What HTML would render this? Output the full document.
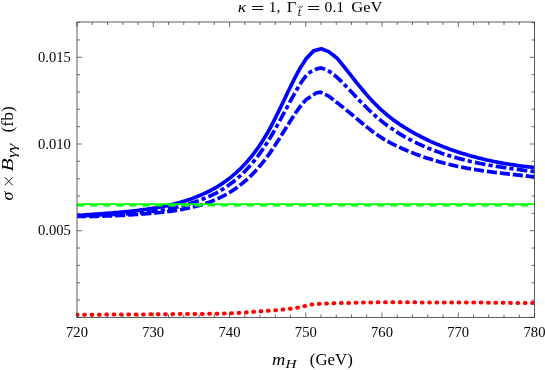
<!DOCTYPE html>
<html><head><meta charset="utf-8"><style>
html,body{margin:0;padding:0;background:#fff;}
svg{display:block;font-family:"Liberation Serif",serif;will-change:transform;-webkit-font-smoothing:antialiased;}
</style></head><body>
<svg width="545" height="370" viewBox="0 0 545 370">
<rect width="545" height="370" fill="#fff"/>
<defs><clipPath id="c"><rect x="75.8" y="22.0" width="459.7" height="295.45"/></clipPath></defs>
<g clip-path="url(#c)" fill="none">
<g stroke="#0000ff" stroke-width="3.7" stroke-linejoin="round">
<path d="M77.0 215.5 L78.5 215.4 L80.0 215.3 L81.5 215.2 L83.0 215.0 L84.5 214.9 L86.0 214.8 L87.5 214.7 L89.0 214.6 L90.5 214.5 L92.0 214.4 L93.5 214.3 L95.0 214.2 L96.5 214.1 L98.0 214.0 L99.5 213.9 L101.0 213.8 L102.5 213.7 L104.0 213.5 L105.5 213.4 L107.0 213.3 L108.5 213.2 L110.0 213.1 L111.5 213.0 L113.0 212.8 L114.5 212.7 L116.0 212.6 L117.5 212.5 L119.0 212.3 L120.5 212.2 L122.0 212.1 L123.5 211.9 L125.0 211.8 L126.5 211.6 L128.0 211.5 L129.5 211.3 L131.0 211.2 L132.5 211.0 L134.0 210.8 L135.5 210.7 L137.0 210.5 L138.5 210.3 L140.0 210.1 L141.5 209.9 L143.0 209.7 L144.5 209.5 L146.0 209.3 L147.5 209.1 L149.0 208.9 L150.5 208.6 L152.0 208.4 L153.5 208.2 L155.0 207.9 L156.5 207.7 L158.0 207.4 L159.5 207.1 L161.0 206.8 L162.5 206.6 L164.0 206.3 L165.5 205.9 L167.0 205.6 L168.5 205.3 L170.0 205.0 L171.5 204.6 L173.0 204.2 L174.5 203.9 L176.0 203.5 L177.5 203.1 L179.0 202.7 L180.5 202.3 L182.0 201.8 L183.5 201.4 L185.0 200.9 L186.5 200.4 L188.0 199.9 L189.5 199.4 L191.0 198.9 L192.5 198.4 L194.0 197.8 L195.5 197.2 L197.0 196.6 L198.5 196.0 L200.0 195.4 L201.5 194.8 L203.0 194.1 L204.5 193.4 L206.0 192.7 L207.5 192.0 L209.0 191.3 L210.5 190.5 L212.0 189.7 L213.5 188.9 L215.0 188.0 L216.5 187.2 L218.0 186.3 L219.5 185.3 L221.0 184.4 L222.5 183.4 L224.0 182.3 L225.5 181.3 L227.0 180.2 L228.5 179.0 L230.0 177.9 L231.5 176.7 L233.0 175.4 L234.5 174.1 L236.0 172.8 L237.5 171.4 L239.0 170.0 L240.5 168.6 L242.0 167.1 L243.5 165.5 L245.0 163.9 L246.5 162.3 L248.0 160.6 L249.5 158.8 L251.0 157.0 L252.5 155.1 L254.0 153.2 L255.5 151.2 L257.0 149.2 L258.5 147.0 L260.0 144.8 L261.5 142.6 L263.0 140.2 L264.5 137.8 L266.0 135.3 L267.5 132.8 L269.0 130.1 L270.5 127.4 L272.0 124.6 L273.5 121.7 L275.0 118.7 L276.5 115.7 L278.0 112.7 L279.5 109.6 L281.0 106.5 L282.5 103.4 L284.0 100.2 L285.5 97.1 L287.0 93.9 L288.5 90.8 L290.0 87.7 L291.5 84.7 L293.0 81.6 L294.5 78.7 L296.0 75.8 L297.5 72.9 L299.0 70.2 L300.5 67.5 L302.2 65.0 L306.2 58.6 L313.6 50.9 L321.3 48.7 L328.7 51.6 L336.8 58.0 L340.0 61.6 L342.5 64.8 L344.0 66.6 L345.5 68.5 L347.0 70.4 L348.5 72.3 L350.0 74.2 L351.5 76.2 L353.0 78.1 L354.5 80.0 L356.0 81.9 L357.5 83.7 L359.0 85.6 L360.5 87.4 L362.0 89.2 L363.5 91.0 L365.0 92.8 L366.5 94.6 L368.0 96.3 L369.5 97.9 L371.0 99.6 L372.5 101.2 L374.0 102.8 L375.5 104.3 L377.0 105.8 L378.5 107.3 L380.0 108.7 L381.5 110.1 L383.0 111.4 L384.5 112.7 L386.0 114.0 L387.5 115.3 L389.0 116.5 L390.5 117.7 L392.0 118.8 L393.5 119.9 L395.0 121.0 L396.5 122.1 L398.0 123.1 L399.5 124.2 L401.0 125.2 L402.5 126.1 L404.0 127.1 L405.5 128.0 L407.0 128.9 L408.5 129.8 L410.0 130.7 L411.5 131.6 L413.0 132.4 L414.5 133.3 L416.0 134.1 L417.5 134.9 L419.0 135.7 L420.5 136.5 L422.0 137.3 L423.5 138.0 L425.0 138.7 L426.5 139.5 L428.0 140.2 L429.5 140.9 L431.0 141.6 L432.5 142.2 L434.0 142.9 L435.5 143.6 L437.0 144.2 L438.5 144.8 L440.0 145.4 L441.5 146.0 L443.0 146.6 L444.5 147.2 L446.0 147.8 L447.5 148.3 L449.0 148.9 L450.5 149.4 L452.0 150.0 L453.5 150.5 L455.0 151.0 L456.5 151.5 L458.0 152.0 L459.5 152.5 L461.0 153.0 L462.5 153.4 L464.0 153.9 L465.5 154.3 L467.0 154.8 L468.5 155.2 L470.0 155.7 L471.5 156.1 L473.0 156.5 L474.5 156.9 L476.0 157.3 L477.5 157.7 L479.0 158.1 L480.5 158.4 L482.0 158.8 L483.5 159.2 L485.0 159.5 L486.5 159.9 L488.0 160.2 L489.5 160.5 L491.0 160.8 L492.5 161.2 L494.0 161.5 L495.5 161.8 L497.0 162.1 L498.5 162.4 L500.0 162.6 L501.5 162.9 L503.0 163.2 L504.5 163.5 L506.0 163.7 L507.5 164.0 L509.0 164.2 L510.5 164.5 L512.0 164.7 L513.5 164.9 L515.0 165.1 L516.5 165.4 L518.0 165.6 L519.5 165.8 L521.0 166.0 L522.5 166.2 L524.0 166.3 L525.5 166.5 L527.0 166.7 L528.5 166.9 L530.0 167.0 L531.5 167.2 L533.0 167.4 L534.5 167.5"/>
<path d="M77.0 216.4 L78.5 216.4 L80.0 216.4 L81.5 216.4 L83.0 216.4 L84.5 216.4 L86.0 216.4 L87.5 216.4 L89.0 216.4 L90.5 216.4 L92.0 216.3 L93.5 216.3 L95.0 216.3 L96.5 216.3 L98.0 216.2 L99.5 216.2 L101.0 216.2 L102.5 216.1 L104.0 216.1 L105.5 216.0 L107.0 216.0 L108.5 215.9 L110.0 215.9 L111.5 215.8 L113.0 215.8 L114.5 215.7 L116.0 215.6 L117.5 215.6 L119.0 215.5 L120.5 215.4 L122.0 215.4 L123.5 215.3 L125.0 215.2 L126.5 215.1 L128.0 215.0 L129.5 214.9 L131.0 214.8 L132.5 214.7 L134.0 214.6 L135.5 214.5 L137.0 214.4 L138.5 214.3 L140.0 214.2 L141.5 214.1 L143.0 214.0 L144.5 213.9 L146.0 213.7 L147.5 213.6 L149.0 213.5 L150.5 213.4 L152.0 213.2 L153.5 213.1 L155.0 213.0 L156.5 212.8 L158.0 212.7 L159.5 212.5 L161.0 212.4 L162.5 212.2 L164.0 212.0 L165.5 211.8 L167.0 211.7 L168.5 211.5 L170.0 211.3 L171.5 211.1 L173.0 210.9 L174.5 210.6 L176.0 210.4 L177.5 210.2 L179.0 209.9 L180.5 209.6 L182.0 209.4 L183.5 209.1 L185.0 208.8 L186.5 208.5 L188.0 208.2 L189.5 207.8 L191.0 207.5 L192.5 207.1 L194.0 206.8 L195.5 206.4 L197.0 206.0 L198.5 205.6 L200.0 205.2 L201.5 204.7 L203.0 204.3 L204.5 203.8 L206.0 203.3 L207.5 202.8 L209.0 202.2 L210.5 201.7 L212.0 201.1 L213.5 200.5 L215.0 199.9 L216.5 199.2 L218.0 198.6 L219.5 197.9 L221.0 197.1 L222.5 196.4 L224.0 195.6 L225.5 194.8 L227.0 194.0 L228.5 193.1 L230.0 192.2 L231.5 191.2 L233.0 190.3 L234.5 189.2 L236.0 188.2 L237.5 187.1 L239.0 186.0 L240.5 184.8 L242.0 183.6 L243.5 182.4 L245.0 181.1 L246.5 179.8 L248.0 178.4 L249.5 177.0 L251.0 175.6 L252.5 174.1 L254.0 172.5 L255.5 170.9 L257.0 169.3 L258.5 167.6 L260.0 165.8 L261.5 164.1 L263.0 162.2 L264.5 160.3 L266.0 158.3 L267.5 156.3 L269.0 154.2 L270.5 152.1 L272.0 149.9 L273.5 147.7 L275.0 145.4 L276.5 143.1 L278.0 140.7 L279.5 138.4 L281.0 136.0 L282.5 133.6 L284.0 131.2 L285.5 128.8 L287.0 126.3 L288.5 124.0 L290.0 121.6 L291.5 119.2 L293.0 116.9 L294.5 114.6 L296.0 112.4 L297.5 110.2 L299.0 108.1 L300.5 106.1 L302.0 104.2 L303.5 102.4 L305.9 99.8 L316.5 92.8 L320.6 92.2 L328.7 96.1 L330.5 97.5 L332.0 98.7 L333.5 99.9 L335.0 101.0 L336.5 102.2 L338.0 103.4 L339.5 104.6 L341.0 105.8 L342.5 106.9 L344.0 108.1 L345.5 109.3 L347.0 110.6 L348.5 111.8 L350.0 113.0 L351.5 114.2 L353.0 115.5 L354.5 116.8 L356.0 118.0 L357.5 119.3 L359.0 120.5 L360.5 121.8 L362.0 123.0 L363.5 124.3 L365.0 125.5 L366.5 126.7 L368.0 127.9 L369.5 129.1 L371.0 130.3 L372.5 131.4 L374.0 132.5 L375.5 133.6 L377.0 134.6 L378.5 135.7 L380.0 136.7 L381.5 137.6 L383.0 138.6 L384.5 139.5 L386.0 140.3 L387.5 141.2 L389.0 142.0 L390.5 142.9 L392.0 143.7 L393.5 144.4 L395.0 145.2 L396.5 145.9 L398.0 146.6 L399.5 147.3 L401.0 148.0 L402.5 148.7 L404.0 149.3 L405.5 150.0 L407.0 150.6 L408.5 151.2 L410.0 151.8 L411.5 152.4 L413.0 153.0 L414.5 153.6 L416.0 154.2 L417.5 154.7 L419.0 155.3 L420.5 155.8 L422.0 156.3 L423.5 156.9 L425.0 157.4 L426.5 157.9 L428.0 158.4 L429.5 158.8 L431.0 159.3 L432.5 159.8 L434.0 160.2 L435.5 160.7 L437.0 161.1 L438.5 161.6 L440.0 162.0 L441.5 162.4 L443.0 162.8 L444.5 163.2 L446.0 163.6 L447.5 164.0 L449.0 164.3 L450.5 164.7 L452.0 165.1 L453.5 165.4 L455.0 165.7 L456.5 166.1 L458.0 166.4 L459.5 166.7 L461.0 167.0 L462.5 167.3 L464.0 167.6 L465.5 167.9 L467.0 168.2 L468.5 168.5 L470.0 168.7 L471.5 169.0 L473.0 169.3 L474.5 169.5 L476.0 169.7 L477.5 170.0 L479.0 170.2 L480.5 170.4 L482.0 170.7 L483.5 170.9 L485.0 171.1 L486.5 171.3 L488.0 171.5 L489.5 171.7 L491.0 171.9 L492.5 172.1 L494.0 172.3 L495.5 172.5 L497.0 172.7 L498.5 172.9 L500.0 173.0 L501.5 173.2 L503.0 173.4 L504.5 173.6 L506.0 173.7 L507.5 173.9 L509.0 174.1 L510.5 174.2 L512.0 174.4 L513.5 174.6 L515.0 174.7 L516.5 174.9 L518.0 175.1 L519.5 175.2 L521.0 175.4 L522.5 175.6 L524.0 175.7 L525.5 175.9 L527.0 176.1 L528.5 176.2 L530.0 176.4 L531.5 176.6 L533.0 176.7 L534.5 176.9" stroke-dasharray="10.1 2.95" stroke-dashoffset="1"/>
<path d="M77.0 216.0 L78.5 215.9 L80.0 215.8 L81.5 215.8 L83.0 215.7 L84.5 215.6 L86.0 215.6 L87.5 215.5 L89.0 215.4 L90.5 215.4 L92.0 215.3 L93.5 215.2 L95.0 215.2 L96.5 215.1 L98.0 215.1 L99.5 215.0 L101.0 215.0 L102.5 214.9 L104.0 214.9 L105.5 214.8 L107.0 214.7 L108.5 214.7 L110.0 214.6 L111.5 214.6 L113.0 214.5 L114.5 214.4 L116.0 214.4 L117.5 214.3 L119.0 214.2 L120.5 214.2 L122.0 214.1 L123.5 214.0 L125.0 213.9 L126.5 213.8 L128.0 213.7 L129.5 213.6 L131.0 213.5 L132.5 213.4 L134.0 213.3 L135.5 213.2 L137.0 213.1 L138.5 213.0 L140.0 212.8 L141.5 212.7 L143.0 212.5 L144.5 212.4 L146.0 212.2 L147.5 212.1 L149.0 211.9 L150.5 211.7 L152.0 211.5 L153.5 211.4 L155.0 211.1 L156.5 210.9 L158.0 210.7 L159.5 210.5 L161.0 210.3 L162.5 210.0 L164.0 209.8 L165.5 209.5 L167.0 209.2 L168.5 208.9 L170.0 208.6 L171.5 208.3 L173.0 208.0 L174.5 207.7 L176.0 207.3 L177.5 207.0 L179.0 206.6 L180.5 206.3 L182.0 205.9 L183.5 205.5 L185.0 205.1 L186.5 204.6 L188.0 204.2 L189.5 203.7 L191.0 203.3 L192.5 202.8 L194.0 202.3 L195.5 201.8 L197.0 201.2 L198.5 200.7 L200.0 200.2 L201.5 199.6 L203.0 199.0 L204.5 198.4 L206.0 197.8 L207.5 197.1 L209.0 196.5 L210.5 195.8 L212.0 195.1 L213.5 194.3 L215.0 193.6 L216.5 192.8 L218.0 191.9 L219.5 191.1 L221.0 190.2 L222.5 189.3 L224.0 188.4 L225.5 187.4 L227.0 186.4 L228.5 185.3 L230.0 184.3 L231.5 183.1 L233.0 182.0 L234.5 180.8 L236.0 179.6 L237.5 178.3 L239.0 176.9 L240.5 175.6 L242.0 174.2 L243.5 172.7 L245.0 171.2 L246.5 169.6 L248.0 168.0 L249.5 166.3 L251.0 164.6 L252.5 162.9 L254.0 161.0 L255.5 159.2 L257.0 157.2 L258.5 155.3 L260.0 153.2 L261.5 151.1 L263.0 148.9 L264.5 146.7 L266.0 144.4 L267.5 142.1 L269.0 139.7 L270.5 137.2 L272.0 134.7 L273.5 132.1 L275.0 129.4 L276.5 126.8 L278.0 124.0 L279.5 121.3 L281.0 118.5 L282.5 115.7 L284.0 112.9 L285.5 110.1 L287.0 107.3 L288.5 104.5 L290.0 101.7 L291.5 99.0 L293.0 96.3 L294.5 93.6 L296.0 91.0 L297.5 88.4 L299.0 85.9 L300.5 83.5 L302.0 81.2 L303.5 79.1 L305.0 77.2 L306.5 75.4 L308.0 73.9 L310.5 71.9 L316.5 69.0 L321.0 67.9 L325.5 69.3 L329.7 71.6 L332.0 73.3 L333.5 74.4 L335.0 75.6 L336.5 76.9 L338.0 78.3 L339.5 79.7 L341.0 81.1 L342.5 82.6 L344.0 84.1 L345.5 85.7 L347.0 87.2 L348.5 88.8 L350.0 90.4 L351.5 92.0 L353.0 93.6 L354.5 95.2 L356.0 96.8 L357.5 98.3 L359.0 99.9 L360.5 101.5 L362.0 103.0 L363.5 104.5 L365.0 106.0 L366.5 107.5 L368.0 109.0 L369.5 110.5 L371.0 111.9 L372.5 113.3 L374.0 114.7 L375.5 116.0 L377.0 117.3 L378.5 118.6 L380.0 119.8 L381.5 121.1 L383.0 122.2 L384.5 123.4 L386.0 124.5 L387.5 125.7 L389.0 126.7 L390.5 127.8 L392.0 128.8 L393.5 129.8 L395.0 130.8 L396.5 131.8 L398.0 132.7 L399.5 133.7 L401.0 134.6 L402.5 135.5 L404.0 136.3 L405.5 137.2 L407.0 138.0 L408.5 138.8 L410.0 139.6 L411.5 140.4 L413.0 141.2 L414.5 141.9 L416.0 142.6 L417.5 143.4 L419.0 144.1 L420.5 144.8 L422.0 145.5 L423.5 146.1 L425.0 146.8 L426.5 147.4 L428.0 148.1 L429.5 148.7 L431.0 149.3 L432.5 149.9 L434.0 150.4 L435.5 151.0 L437.0 151.6 L438.5 152.1 L440.0 152.6 L441.5 153.2 L443.0 153.7 L444.5 154.2 L446.0 154.7 L447.5 155.2 L449.0 155.6 L450.5 156.1 L452.0 156.5 L453.5 157.0 L455.0 157.4 L456.5 157.8 L458.0 158.2 L459.5 158.6 L461.0 159.0 L462.5 159.4 L464.0 159.8 L465.5 160.2 L467.0 160.5 L468.5 160.9 L470.0 161.3 L471.5 161.6 L473.0 161.9 L474.5 162.3 L476.0 162.6 L477.5 162.9 L479.0 163.2 L480.5 163.5 L482.0 163.8 L483.5 164.1 L485.0 164.4 L486.5 164.7 L488.0 164.9 L489.5 165.2 L491.0 165.5 L492.5 165.7 L494.0 166.0 L495.5 166.2 L497.0 166.5 L498.5 166.7 L500.0 166.9 L501.5 167.2 L503.0 167.4 L504.5 167.6 L506.0 167.8 L507.5 168.1 L509.0 168.3 L510.5 168.5 L512.0 168.7 L513.5 168.9 L515.0 169.1 L516.5 169.3 L518.0 169.5 L519.5 169.7 L521.0 169.9 L522.5 170.1 L524.0 170.3 L525.5 170.5 L527.0 170.7 L528.5 170.8 L530.0 171.0 L531.5 171.2 L533.0 171.4 L534.5 171.6" stroke-dasharray="4.2 3.15 10.68 3.15" stroke-dashoffset="0.7"/>
</g>
<g stroke="#00ff00">
<line x1="77.0" y1="204.1" x2="534.5" y2="204.1" stroke-width="1.9"/>
<line x1="77.0" y1="205.7" x2="534.5" y2="205.7" stroke-width="1.4" stroke-dasharray="7.4 5.65"/>
</g>
<path d="M77.0 314.8 L78.5 314.8 L80.0 314.8 L81.5 314.8 L83.0 314.8 L84.5 314.8 L86.0 314.8 L87.5 314.8 L89.0 314.7 L90.5 314.7 L92.0 314.7 L93.5 314.7 L95.0 314.7 L96.5 314.7 L98.0 314.7 L99.5 314.7 L101.0 314.7 L102.5 314.7 L104.0 314.7 L105.5 314.6 L107.0 314.6 L108.5 314.6 L110.0 314.6 L111.5 314.6 L113.0 314.6 L114.5 314.6 L116.0 314.6 L117.5 314.6 L119.0 314.6 L120.5 314.5 L122.0 314.5 L123.5 314.5 L125.0 314.5 L126.5 314.5 L128.0 314.5 L129.5 314.5 L131.0 314.5 L132.5 314.5 L134.0 314.5 L135.5 314.4 L137.0 314.4 L138.5 314.4 L140.0 314.4 L141.5 314.4 L143.0 314.4 L144.5 314.4 L146.0 314.4 L147.5 314.3 L149.0 314.3 L150.5 314.3 L152.0 314.3 L153.5 314.3 L155.0 314.3 L156.5 314.3 L158.0 314.3 L159.5 314.2 L161.0 314.2 L162.5 314.2 L164.0 314.2 L165.5 314.2 L167.0 314.2 L168.5 314.2 L170.0 314.2 L171.5 314.2 L173.0 314.1 L174.5 314.1 L176.0 314.1 L177.5 314.1 L179.0 314.1 L180.5 314.1 L182.0 314.1 L183.5 314.1 L185.0 314.1 L186.5 314.0 L188.0 314.0 L189.5 314.0 L191.0 314.0 L192.5 314.0 L194.0 314.0 L195.5 314.0 L197.0 313.9 L198.5 313.9 L200.0 313.9 L201.5 313.9 L203.0 313.9 L204.5 313.9 L206.0 313.8 L207.5 313.8 L209.0 313.8 L210.5 313.8 L212.0 313.7 L213.5 313.7 L215.0 313.7 L216.5 313.7 L218.0 313.7 L219.5 313.6 L221.0 313.6 L222.5 313.6 L224.0 313.5 L225.5 313.5 L227.0 313.5 L228.5 313.4 L230.0 313.4 L231.5 313.3 L233.0 313.2 L234.5 313.2 L236.0 313.1 L237.5 313.0 L239.0 312.9 L240.5 312.8 L242.0 312.7 L243.5 312.6 L245.0 312.5 L246.5 312.4 L248.0 312.2 L249.5 312.1 L251.0 312.0 L252.5 311.9 L254.0 311.8 L255.5 311.7 L257.0 311.6 L258.5 311.5 L260.0 311.4 L261.5 311.3 L263.0 311.2 L264.5 311.1 L266.0 311.0 L267.5 310.9 L269.0 310.8 L270.5 310.6 L272.0 310.5 L273.5 310.4 L275.0 310.3 L276.5 310.2 L278.0 310.0 L279.5 309.9 L281.0 309.8 L282.5 309.6 L284.0 309.5 L285.5 309.3 L287.0 309.2 L288.5 309.0 L290.0 308.8 L291.5 308.6 L293.0 308.4 L294.5 308.2 L296.0 307.9 L297.5 307.7 L299.0 307.4 L300.5 307.1 L302.0 306.7 L303.5 306.3 L305.0 306.0 L306.5 305.6 L308.0 305.3 L309.5 304.9 L311.0 304.6 L312.5 304.4 L314.0 304.3 L315.5 304.1 L317.0 304.0 L318.5 303.9 L320.0 303.8 L321.5 303.8 L323.0 303.7 L324.5 303.6 L326.0 303.6 L327.5 303.5 L329.0 303.4 L330.5 303.4 L332.0 303.3 L333.5 303.3 L335.0 303.2 L336.5 303.2 L338.0 303.2 L339.5 303.1 L341.0 303.1 L342.5 303.0 L344.0 303.0 L345.5 303.0 L347.0 302.9 L348.5 302.9 L350.0 302.9 L351.5 302.9 L353.0 302.8 L354.5 302.8 L356.0 302.7 L357.5 302.7 L359.0 302.7 L360.5 302.6 L362.0 302.6 L363.5 302.6 L365.0 302.5 L366.5 302.5 L368.0 302.5 L369.5 302.5 L371.0 302.4 L372.5 302.4 L374.0 302.4 L375.5 302.4 L377.0 302.3 L378.5 302.3 L380.0 302.3 L381.5 302.3 L383.0 302.3 L384.5 302.3 L386.0 302.3 L387.5 302.3 L389.0 302.3 L390.5 302.3 L392.0 302.3 L393.5 302.3 L395.0 302.3 L396.5 302.3 L398.0 302.3 L399.5 302.3 L401.0 302.3 L402.5 302.3 L404.0 302.3 L405.5 302.3 L407.0 302.3 L408.5 302.3 L410.0 302.3 L411.5 302.3 L413.0 302.3 L414.5 302.3 L416.0 302.3 L417.5 302.4 L419.0 302.4 L420.5 302.4 L422.0 302.4 L423.5 302.4 L425.0 302.4 L426.5 302.4 L428.0 302.4 L429.5 302.4 L431.0 302.4 L432.5 302.4 L434.0 302.4 L435.5 302.4 L437.0 302.4 L438.5 302.4 L440.0 302.4 L441.5 302.4 L443.0 302.4 L444.5 302.4 L446.0 302.5 L447.5 302.5 L449.0 302.5 L450.5 302.5 L452.0 302.5 L453.5 302.5 L455.0 302.5 L456.5 302.5 L458.0 302.5 L459.5 302.5 L461.0 302.5 L462.5 302.5 L464.0 302.5 L465.5 302.5 L467.0 302.5 L468.5 302.5 L470.0 302.6 L471.5 302.6 L473.0 302.6 L474.5 302.6 L476.0 302.6 L477.5 302.6 L479.0 302.6 L480.5 302.6 L482.0 302.6 L483.5 302.6 L485.0 302.7 L486.5 302.7 L488.0 302.7 L489.5 302.7 L491.0 302.7 L492.5 302.7 L494.0 302.7 L495.5 302.7 L497.0 302.7 L498.5 302.8 L500.0 302.8 L501.5 302.8 L503.0 302.8 L504.5 302.8 L506.0 302.8 L507.5 302.8 L509.0 302.8 L510.5 302.9 L512.0 302.9 L513.5 302.9 L515.0 302.9 L516.5 302.9 L518.0 302.9 L519.5 302.9 L521.0 303.0 L522.5 303.0 L524.0 303.0 L525.5 303.0 L527.0 303.0 L528.5 303.0 L530.0 303.1 L531.5 303.1 L533.0 303.1 L534.5 303.1" stroke="#ff0000" stroke-width="4" stroke-linecap="round" stroke-dasharray="0.8 6.557" stroke-dashoffset="0.2"/>
</g>
<g stroke="#5c5c5c" stroke-width="1" fill="none">
<rect x="77.0" y="22.0" width="457.5" height="295.45"/>
</g>
<g stroke="#333" stroke-width="0.7" fill="none">
<line x1="77.00" y1="317.45" x2="77.00" y2="312.45"/><line x1="77.00" y1="22.00" x2="77.00" y2="27.00"/><line x1="92.25" y1="317.45" x2="92.25" y2="314.45"/><line x1="92.25" y1="22.00" x2="92.25" y2="25.00"/><line x1="107.50" y1="317.45" x2="107.50" y2="314.45"/><line x1="107.50" y1="22.00" x2="107.50" y2="25.00"/><line x1="122.75" y1="317.45" x2="122.75" y2="314.45"/><line x1="122.75" y1="22.00" x2="122.75" y2="25.00"/><line x1="138.00" y1="317.45" x2="138.00" y2="314.45"/><line x1="138.00" y1="22.00" x2="138.00" y2="25.00"/><line x1="153.25" y1="317.45" x2="153.25" y2="312.45"/><line x1="153.25" y1="22.00" x2="153.25" y2="27.00"/><line x1="168.50" y1="317.45" x2="168.50" y2="314.45"/><line x1="168.50" y1="22.00" x2="168.50" y2="25.00"/><line x1="183.75" y1="317.45" x2="183.75" y2="314.45"/><line x1="183.75" y1="22.00" x2="183.75" y2="25.00"/><line x1="199.00" y1="317.45" x2="199.00" y2="314.45"/><line x1="199.00" y1="22.00" x2="199.00" y2="25.00"/><line x1="214.25" y1="317.45" x2="214.25" y2="314.45"/><line x1="214.25" y1="22.00" x2="214.25" y2="25.00"/><line x1="229.50" y1="317.45" x2="229.50" y2="312.45"/><line x1="229.50" y1="22.00" x2="229.50" y2="27.00"/><line x1="244.75" y1="317.45" x2="244.75" y2="314.45"/><line x1="244.75" y1="22.00" x2="244.75" y2="25.00"/><line x1="260.00" y1="317.45" x2="260.00" y2="314.45"/><line x1="260.00" y1="22.00" x2="260.00" y2="25.00"/><line x1="275.25" y1="317.45" x2="275.25" y2="314.45"/><line x1="275.25" y1="22.00" x2="275.25" y2="25.00"/><line x1="290.50" y1="317.45" x2="290.50" y2="314.45"/><line x1="290.50" y1="22.00" x2="290.50" y2="25.00"/><line x1="305.75" y1="317.45" x2="305.75" y2="312.45"/><line x1="305.75" y1="22.00" x2="305.75" y2="27.00"/><line x1="321.00" y1="317.45" x2="321.00" y2="314.45"/><line x1="321.00" y1="22.00" x2="321.00" y2="25.00"/><line x1="336.25" y1="317.45" x2="336.25" y2="314.45"/><line x1="336.25" y1="22.00" x2="336.25" y2="25.00"/><line x1="351.50" y1="317.45" x2="351.50" y2="314.45"/><line x1="351.50" y1="22.00" x2="351.50" y2="25.00"/><line x1="366.75" y1="317.45" x2="366.75" y2="314.45"/><line x1="366.75" y1="22.00" x2="366.75" y2="25.00"/><line x1="382.00" y1="317.45" x2="382.00" y2="312.45"/><line x1="382.00" y1="22.00" x2="382.00" y2="27.00"/><line x1="397.25" y1="317.45" x2="397.25" y2="314.45"/><line x1="397.25" y1="22.00" x2="397.25" y2="25.00"/><line x1="412.50" y1="317.45" x2="412.50" y2="314.45"/><line x1="412.50" y1="22.00" x2="412.50" y2="25.00"/><line x1="427.75" y1="317.45" x2="427.75" y2="314.45"/><line x1="427.75" y1="22.00" x2="427.75" y2="25.00"/><line x1="443.00" y1="317.45" x2="443.00" y2="314.45"/><line x1="443.00" y1="22.00" x2="443.00" y2="25.00"/><line x1="458.25" y1="317.45" x2="458.25" y2="312.45"/><line x1="458.25" y1="22.00" x2="458.25" y2="27.00"/><line x1="473.50" y1="317.45" x2="473.50" y2="314.45"/><line x1="473.50" y1="22.00" x2="473.50" y2="25.00"/><line x1="488.75" y1="317.45" x2="488.75" y2="314.45"/><line x1="488.75" y1="22.00" x2="488.75" y2="25.00"/><line x1="504.00" y1="317.45" x2="504.00" y2="314.45"/><line x1="504.00" y1="22.00" x2="504.00" y2="25.00"/><line x1="519.25" y1="317.45" x2="519.25" y2="314.45"/><line x1="519.25" y1="22.00" x2="519.25" y2="25.00"/><line x1="534.50" y1="317.45" x2="534.50" y2="312.45"/><line x1="534.50" y1="22.00" x2="534.50" y2="27.00"/><line x1="77.00" y1="317.40" x2="82.00" y2="317.40"/><line x1="534.50" y1="317.40" x2="529.50" y2="317.40"/><line x1="77.00" y1="300.06" x2="80.00" y2="300.06"/><line x1="534.50" y1="300.06" x2="531.50" y2="300.06"/><line x1="77.00" y1="282.72" x2="80.00" y2="282.72"/><line x1="534.50" y1="282.72" x2="531.50" y2="282.72"/><line x1="77.00" y1="265.38" x2="80.00" y2="265.38"/><line x1="534.50" y1="265.38" x2="531.50" y2="265.38"/><line x1="77.00" y1="248.04" x2="80.00" y2="248.04"/><line x1="534.50" y1="248.04" x2="531.50" y2="248.04"/><line x1="77.00" y1="230.70" x2="82.00" y2="230.70"/><line x1="534.50" y1="230.70" x2="529.50" y2="230.70"/><line x1="77.00" y1="213.36" x2="80.00" y2="213.36"/><line x1="534.50" y1="213.36" x2="531.50" y2="213.36"/><line x1="77.00" y1="196.02" x2="80.00" y2="196.02"/><line x1="534.50" y1="196.02" x2="531.50" y2="196.02"/><line x1="77.00" y1="178.68" x2="80.00" y2="178.68"/><line x1="534.50" y1="178.68" x2="531.50" y2="178.68"/><line x1="77.00" y1="161.34" x2="80.00" y2="161.34"/><line x1="534.50" y1="161.34" x2="531.50" y2="161.34"/><line x1="77.00" y1="144.00" x2="82.00" y2="144.00"/><line x1="534.50" y1="144.00" x2="529.50" y2="144.00"/><line x1="77.00" y1="126.66" x2="80.00" y2="126.66"/><line x1="534.50" y1="126.66" x2="531.50" y2="126.66"/><line x1="77.00" y1="109.32" x2="80.00" y2="109.32"/><line x1="534.50" y1="109.32" x2="531.50" y2="109.32"/><line x1="77.00" y1="91.98" x2="80.00" y2="91.98"/><line x1="534.50" y1="91.98" x2="531.50" y2="91.98"/><line x1="77.00" y1="74.64" x2="80.00" y2="74.64"/><line x1="534.50" y1="74.64" x2="531.50" y2="74.64"/><line x1="77.00" y1="57.30" x2="82.00" y2="57.30"/><line x1="534.50" y1="57.30" x2="529.50" y2="57.30"/><line x1="77.00" y1="39.96" x2="80.00" y2="39.96"/><line x1="534.50" y1="39.96" x2="531.50" y2="39.96"/><line x1="77.00" y1="22.62" x2="80.00" y2="22.62"/><line x1="534.50" y1="22.62" x2="531.50" y2="22.62"/>
</g>
<g font-size="14.6px" fill="#000"><text x="77.0" y="337" text-anchor="middle">720</text><text x="153.2" y="337" text-anchor="middle">730</text><text x="229.5" y="337" text-anchor="middle">740</text><text x="305.8" y="337" text-anchor="middle">750</text><text x="382.0" y="337" text-anchor="middle">760</text><text x="458.2" y="337" text-anchor="middle">770</text><text x="534.5" y="337" text-anchor="middle">780</text><text x="70.8" y="235.3" text-anchor="end">0.005</text><text x="70.8" y="148.6" text-anchor="end">0.010</text><text x="70.8" y="61.9" text-anchor="end">0.015</text></g>
<g id="title" fill="#000" font-size="15.4px">
<text x="237.8" y="12.3" font-style="italic" textLength="8.6" lengthAdjust="spacingAndGlyphs">κ</text>
<path d="M252 6.5H263.2M252 9.5H263.2M308 6.5H319.2M308 9.5H319.2" stroke="#000" stroke-width="0.95" fill="none"/>
<text x="268.7" y="12.3">1,</text>
<text x="286.8" y="12.3" textLength="9.6" lengthAdjust="spacingAndGlyphs">Γ</text>
<text x="297.8" y="16" font-style="italic" font-size="12px">t</text>
<path d="M298.7 7.6c0.6 -1.5 1.3 -1.5 1.9 -0.7s1.3 0.8 1.9 -0.8" stroke="#000" stroke-width="0.8" fill="none"/>
<text x="324.6" y="12.3" textLength="19.5" lengthAdjust="spacingAndGlyphs">0.1</text>
<text x="351.2" y="12.3" textLength="31.3" lengthAdjust="spacingAndGlyphs">GeV</text>
</g>
<g id="xlab" fill="#000" font-size="16.5px">
<text x="272" y="364.6" font-style="italic" textLength="13.3" lengthAdjust="spacingAndGlyphs">m</text>
<text x="285.6" y="367.6" font-style="italic" font-size="11.5px" textLength="11" lengthAdjust="spacingAndGlyphs">H</text>
<text x="309.8" y="364.6" textLength="43" lengthAdjust="spacingAndGlyphs">(GeV)</text>
</g>
<g id="ylab" fill="#000" font-size="16.5px" transform="translate(13.2,200.4) rotate(-90)">
<text x="0" y="0" font-style="italic" textLength="9" lengthAdjust="spacingAndGlyphs">σ</text>
<path d="M14.9 -0.3l8.2 -8.2M14.9 -8.5l8.2 8.2" stroke="#000" stroke-width="0.9" fill="none"/>
<text x="29.0" y="0" font-style="italic" textLength="13.2" lengthAdjust="spacingAndGlyphs">B</text>
<text x="42.7" y="3.2" font-style="italic" font-size="11.5px" textLength="14.2" lengthAdjust="spacingAndGlyphs">γγ</text>
<text x="67.9" y="0" textLength="26.3" lengthAdjust="spacingAndGlyphs">(fb)</text>
</g>
</svg>
</body></html>
